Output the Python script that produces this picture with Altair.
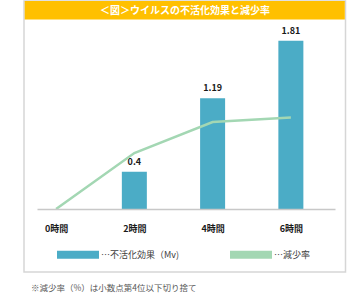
import altair as alt
import pandas as pd

hours = [0, 2, 4, 6]
effect = [0, 0.4, 1.19, 1.81]          # 不活化効果 (Mv)
reduction = [0, 60.1, 93.5, 98.4]       # 減少率 (%)
effect_labels = ["", "0.4", "1.19", "1.81"]
title_text = "＜図＞ウイルスの不活化効果と減少率"
legend_labels = ["…不活化効果（Mv)", "…減少率"]
footnote = "※減少率（%）は小数点第4位以下切り捨て"

BLUE = "#4BACC6"
GREEN = "#A3D7B3"
FONT = "Noto Sans CJK JP"

df = pd.DataFrame({"h": hours, "effect": effect, "red": reduction, "lab": effect_labels})
one = pd.DataFrame({"a": [0]})

xscale = alt.Scale(domain=[-0.36, 7.0], nice=False, zero=False)
xaxis = alt.Axis(values=hours, labelExpr="datum.value + '時間'", title=None, grid=False,
                 ticks=False, tickSize=0, domainColor="#C8C8C8", domainWidth=1.5,
                 labelFont=FONT, labelFontWeight="bold", labelFontSize=9, labelColor="#1a1a1a",
                 labelPadding=15, labelBaseline="top", zindex=1)

frame = alt.Chart(one).mark_rect(fill="white", stroke="#D6D6D6", strokeWidth=1.5).encode(
    x=alt.value(-13), x2=alt.value(308.5), y=alt.value(-22), y2=alt.value(249))
titlebar = alt.Chart(one).mark_rect(fill="#FFC000").encode(
    x=alt.value(-12.3), x2=alt.value(307.8), y=alt.value(-22), y2=alt.value(-3.5))
titletxt = alt.Chart(one).mark_text(text=title_text, font=FONT, fontWeight="bold", fontSize=10,
                                    color="white", align="center", baseline="middle").encode(
    x=alt.value(148), y=alt.value(-12.5))

bars = alt.Chart(df).mark_bar(size=25, color=BLUE).encode(
    x=alt.X("h:Q", scale=xscale, axis=xaxis),
    y=alt.Y("effect:Q", scale=alt.Scale(domain=[0, 2], nice=False), axis=None))
labels = alt.Chart(df).transform_filter("datum.effect > 0").mark_text(
    font=FONT, fontWeight="bold", fontSize=9, color="#1a1a1a", dy=-10, baseline="middle").encode(
    x=alt.X("h:Q", scale=xscale, axis=xaxis),
    y=alt.Y("effect:Q", scale=alt.Scale(domain=[0, 2], nice=False), axis=None),
    text="lab:N")
left = alt.layer(bars, labels)

line = alt.Chart(df).mark_line(color=GREEN, strokeWidth=2.5).encode(
    x=alt.X("h:Q", scale=xscale, axis=xaxis),
    y=alt.Y("red:Q", scale=alt.Scale(domain=[0, 200], nice=False), axis=None))

leg_b = alt.Chart(one).mark_rect(fill=BLUE).encode(
    x=alt.value(20), x2=alt.value(62), y=alt.value(227.7), y2=alt.value(235.7))
leg_g = alt.Chart(one).mark_rect(fill=GREEN).encode(
    x=alt.value(193), x2=alt.value(235), y=alt.value(227.7), y2=alt.value(235.7))
leg_t1 = alt.Chart(one).mark_text(text=legend_labels[0], font=FONT, fontSize=9, color="#404040",
                                  align="left", baseline="middle").encode(x=alt.value(64), y=alt.value(232))
leg_t2 = alt.Chart(one).mark_text(text=legend_labels[1], font=FONT, fontSize=9, color="#404040",
                                  align="left", baseline="middle").encode(x=alt.value(237), y=alt.value(232))
foot = alt.Chart(one).mark_text(text=footnote, font=FONT, fontSize=8.5, color="#595959",
                                align="left", baseline="middle").encode(x=alt.value(-6), y=alt.value(265))

chart = alt.layer(frame, titlebar, titletxt, left, line, leg_b, leg_g, leg_t1, leg_t2, foot).resolve_scale(
    y="independent").properties(
    width=298, height=186,
    autosize=alt.AutoSizeParams(type="none"),
    padding={"left": 37, "top": 23, "right": 12, "bottom": 91},
    background="white",
).configure_view(stroke=None)

chart.save("out.html", embed_options={"renderer": "svg", "actions": False})
